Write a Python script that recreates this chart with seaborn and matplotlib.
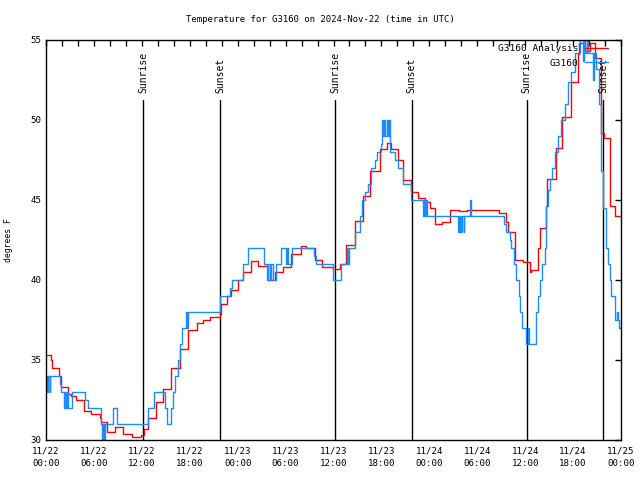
#temperature trace, station vs analysis, gnuplot-ish look
import pandas as pd
import numpy as np
import matplotlib
matplotlib.use('Agg')
import seaborn as sns
import matplotlib.pyplot as plt

#hours since 11/22 00:00 UTC, step values (degrees F)
red_hours = [0.0, 0.63, 0.75, 1.67, 1.9, 2.7, 3.1, 3.7, 4.8, 5.6,
             6.7, 6.9, 7.7, 8.7, 9.7, 10.75, 11.9, 12.26, 12.8, 13.76,
             14.6, 15.7, 16.76, 17.8, 18.85, 19.7, 20.5, 21.76, 21.97, 22.68,
             23.2, 24.1, 24.7, 25.65, 26.6, 27.75, 28.7, 29.7, 30.65, 31.9,
             32.5, 33.66, 34.6, 35.9, 36.8, 37.6, 38.7, 39.7, 40.6, 41.8,
             42.7, 43.25, 44.1, 44.7, 45.75, 46.6, 47.4, 48.06, 48.7, 49.6,
             50.6, 51.7, 52.7, 56.7, 57.6, 57.85, 58.7, 59.7, 60.57, 60.78,
             61.6, 61.82, 62.57, 62.74, 63.8, 64.65, 65.8, 66.6, 66.8, 67.45,
             68.07, 68.7, 69.5, 69.9, 70.57, 71.2, 72.0]
red_temp = [35.3, 35.0, 34.5, 34.0, 33.3, 32.9, 32.75, 32.5, 31.8, 31.6,
            31.35, 31.1, 30.5, 30.8, 30.4, 30.2, 30.3, 30.7, 31.35, 32.35,
            33.2, 34.5, 35.7, 36.9, 37.3, 37.5, 37.7, 37.9, 38.5, 39.0,
            39.4, 40.0, 40.5, 41.2, 40.9, 40.0, 40.5, 40.8, 41.6, 42.1,
            42.0, 41.25, 40.8, 40.7, 41.0, 42.2, 43.7, 45.25, 46.8, 48.2,
            48.55, 48.2, 47.5, 46.25, 45.5, 45.1, 44.9, 44.5, 43.5, 43.65,
            44.4, 44.3, 44.4, 44.2, 43.6, 43.0, 41.25, 41.15, 40.5, 40.6,
            42.0, 43.25, 44.6, 46.3, 48.25, 50.2, 52.4, 54.1, 54.8, 54.3,
            54.8, 53.9, 49.2, 48.9, 44.6, 44.0, 44.0]

blue_hours = [0.0, 0.1, 0.2, 0.3, 0.45, 0.55, 1.75, 1.85, 2.3, 2.4,
              2.5, 2.6, 2.7, 3.25, 4.9, 5.2, 6.9, 7.0, 7.1, 7.25,
              7.4, 8.45, 8.95, 12.8, 13.55, 14.9, 15.2, 15.6, 15.93, 16.1,
              16.55, 16.76, 16.97, 17.5, 17.6, 17.75, 21.76, 21.85, 23.1, 23.35,
              24.7, 25.3, 27.3, 27.7, 27.85, 28.0, 28.2, 28.4, 28.78, 29.4,
              30.03, 30.2, 30.35, 30.86, 33.6, 33.78, 35.95, 36.9, 37.7, 37.85,
              38.0, 38.7, 39.3, 39.6, 39.9, 40.33, 40.75, 41.2, 41.46, 41.9,
              42.08, 42.2, 42.35, 42.5, 42.65, 42.85, 43.0, 43.1, 43.66, 44.08,
              44.7, 45.75, 47.2, 47.35, 47.5, 47.6, 47.75, 51.6, 51.7, 51.8,
              51.9, 52.0, 52.1, 52.3, 52.4, 53.15, 53.25, 57.4, 57.65, 58.06,
              58.27, 58.56, 58.8, 59.2, 59.4, 59.65, 60.15, 60.36, 60.5, 61.3,
              61.6, 61.9, 62.15, 62.45, 62.57, 62.9, 63.1, 63.3, 63.7, 64.1,
              64.5, 64.95, 65.36, 65.8, 66.2, 66.82, 67.24, 67.4, 67.55, 67.7,
              67.85, 68.5, 68.6, 68.9, 69.3, 69.5, 69.74, 70.15, 70.36, 70.57,
              70.78, 71.2, 71.3, 71.45, 71.6, 71.8, 72.0]
blue_temp = [33, 34, 33, 34, 33, 34, 33.5, 33, 32, 33,
             32, 33, 32, 33, 32.5, 32, 31, 30, 31, 30,
             31, 32, 31, 32, 33, 32, 31, 32, 33, 34,
             35, 36, 37, 38, 37, 38, 38.5, 39, 39.5, 40,
             41, 42, 41, 40, 41, 40, 41, 40, 41, 42,
             41, 42, 41, 42, 41.5, 41, 40, 41, 42, 41,
             42, 43, 44, 45, 45.5, 46, 47, 47.5, 48, 48.5,
             50, 49, 50, 49, 50, 49, 50, 48, 47.5, 47,
             46, 45, 44, 45, 44, 45, 44, 43, 44, 43,
             44, 43, 44, 43, 44, 45, 44, 43.5, 43, 42.5,
             42, 41, 40, 39, 38, 37, 36, 37, 36, 38,
             39, 40, 41, 42, 44.6, 45.6, 46.3, 47, 48, 49,
             50, 51, 52.4, 53, 54.2, 55.5, 53.7, 55.5, 54.2, 55.5,
             54.2, 52.5, 54.2, 53.2, 51, 46.8, 44.5, 42, 41, 40,
             39, 38, 37.5, 38, 37.5, 37, 37]

#sunrise / sunset markers
sun_hours = [12.15, 21.8, 36.2, 45.8, 60.2, 69.75]
sun_labels = ['Sunrise', 'Sunset', 'Sunrise', 'Sunset', 'Sunrise', 'Sunset']

tick_hours = list(range(0, 73, 6))
tick_labels = ['11/22\n00:00', '11/22\n06:00', '11/22\n12:00', '11/22\n18:00',
               '11/23\n00:00', '11/23\n06:00', '11/23\n12:00', '11/23\n18:00',
               '11/24\n00:00', '11/24\n06:00', '11/24\n12:00', '11/24\n18:00',
               '11/25\n00:00']

sns.set_style('white', {'axes.edgecolor': 'black', 'text.color': 'black',
                        'xtick.color': 'black', 'ytick.color': 'black',
                        'axes.labelcolor': 'black'})
plt.rcParams['font.family'] = ['DejaVu Sans Mono']

fig = plt.figure(figsize=(6.4, 4.8), dpi=100)
ax = fig.add_axes([46/640, 40/480, 575/640, 400/480])

for h, name in zip(sun_hours, sun_labels):
    ax.axvline(h, ymin=0, ymax=(51.25 - 30) / 25, color='black', lw=1, zorder=1)
    ax.text(h, 51.7, name, rotation=90, ha='center', va='bottom', fontsize=7)

red_df = pd.DataFrame({'hour': red_hours, 'temp': red_temp})
blue_df = pd.DataFrame({'hour': blue_hours, 'temp': blue_temp})

sns.lineplot(data=red_df, x='hour', y='temp', color='#ff0000', lw=1,
             drawstyle='steps-post', estimator=None, label='G3160 Analysis', ax=ax)
sns.lineplot(data=blue_df, x='hour', y='temp', color='#1a8cff', lw=1,
             drawstyle='steps-post', estimator=None, label='G3160', ax=ax)

ax.set_xlim(0, 72)
ax.set_ylim(30, 55)
ax.set_xticks(tick_hours)
ax.set_xticklabels(tick_labels)
ax.set_xticks(range(0, 73, 2), minor=True)
ax.set_yticks(range(30, 56, 5))
ax.tick_params(which='both', direction='in', top=True, right=True,
               length=4, width=1, labelsize=6.6)
ax.tick_params(axis='x', pad=5)
for lbl in ax.get_xticklabels():
    lbl.set_linespacing(1.45)

for s in ax.spines.values():
    s.set_color('black')
    s.set_linewidth(1)

ax.set_xlabel('')
ax.set_ylabel('degrees F', fontsize=5.8)
ax.yaxis.set_label_coords(-0.058, 0.5)

ax.legend(loc='upper right', bbox_to_anchor=(0.983, 0.996), frameon=False,
          markerfirst=False, fontsize=6.8, handlelength=2.5, handletextpad=0.7,
          labelspacing=0.55, borderaxespad=0, borderpad=0.3)

fig.text(0.5, 1 - 20/480, 'Temperature for G3160 on 2024-Nov-22 (time in UTC)',
         ha='center', va='center', fontsize=6.5)

plt.savefig('out.png', dpi=100)
